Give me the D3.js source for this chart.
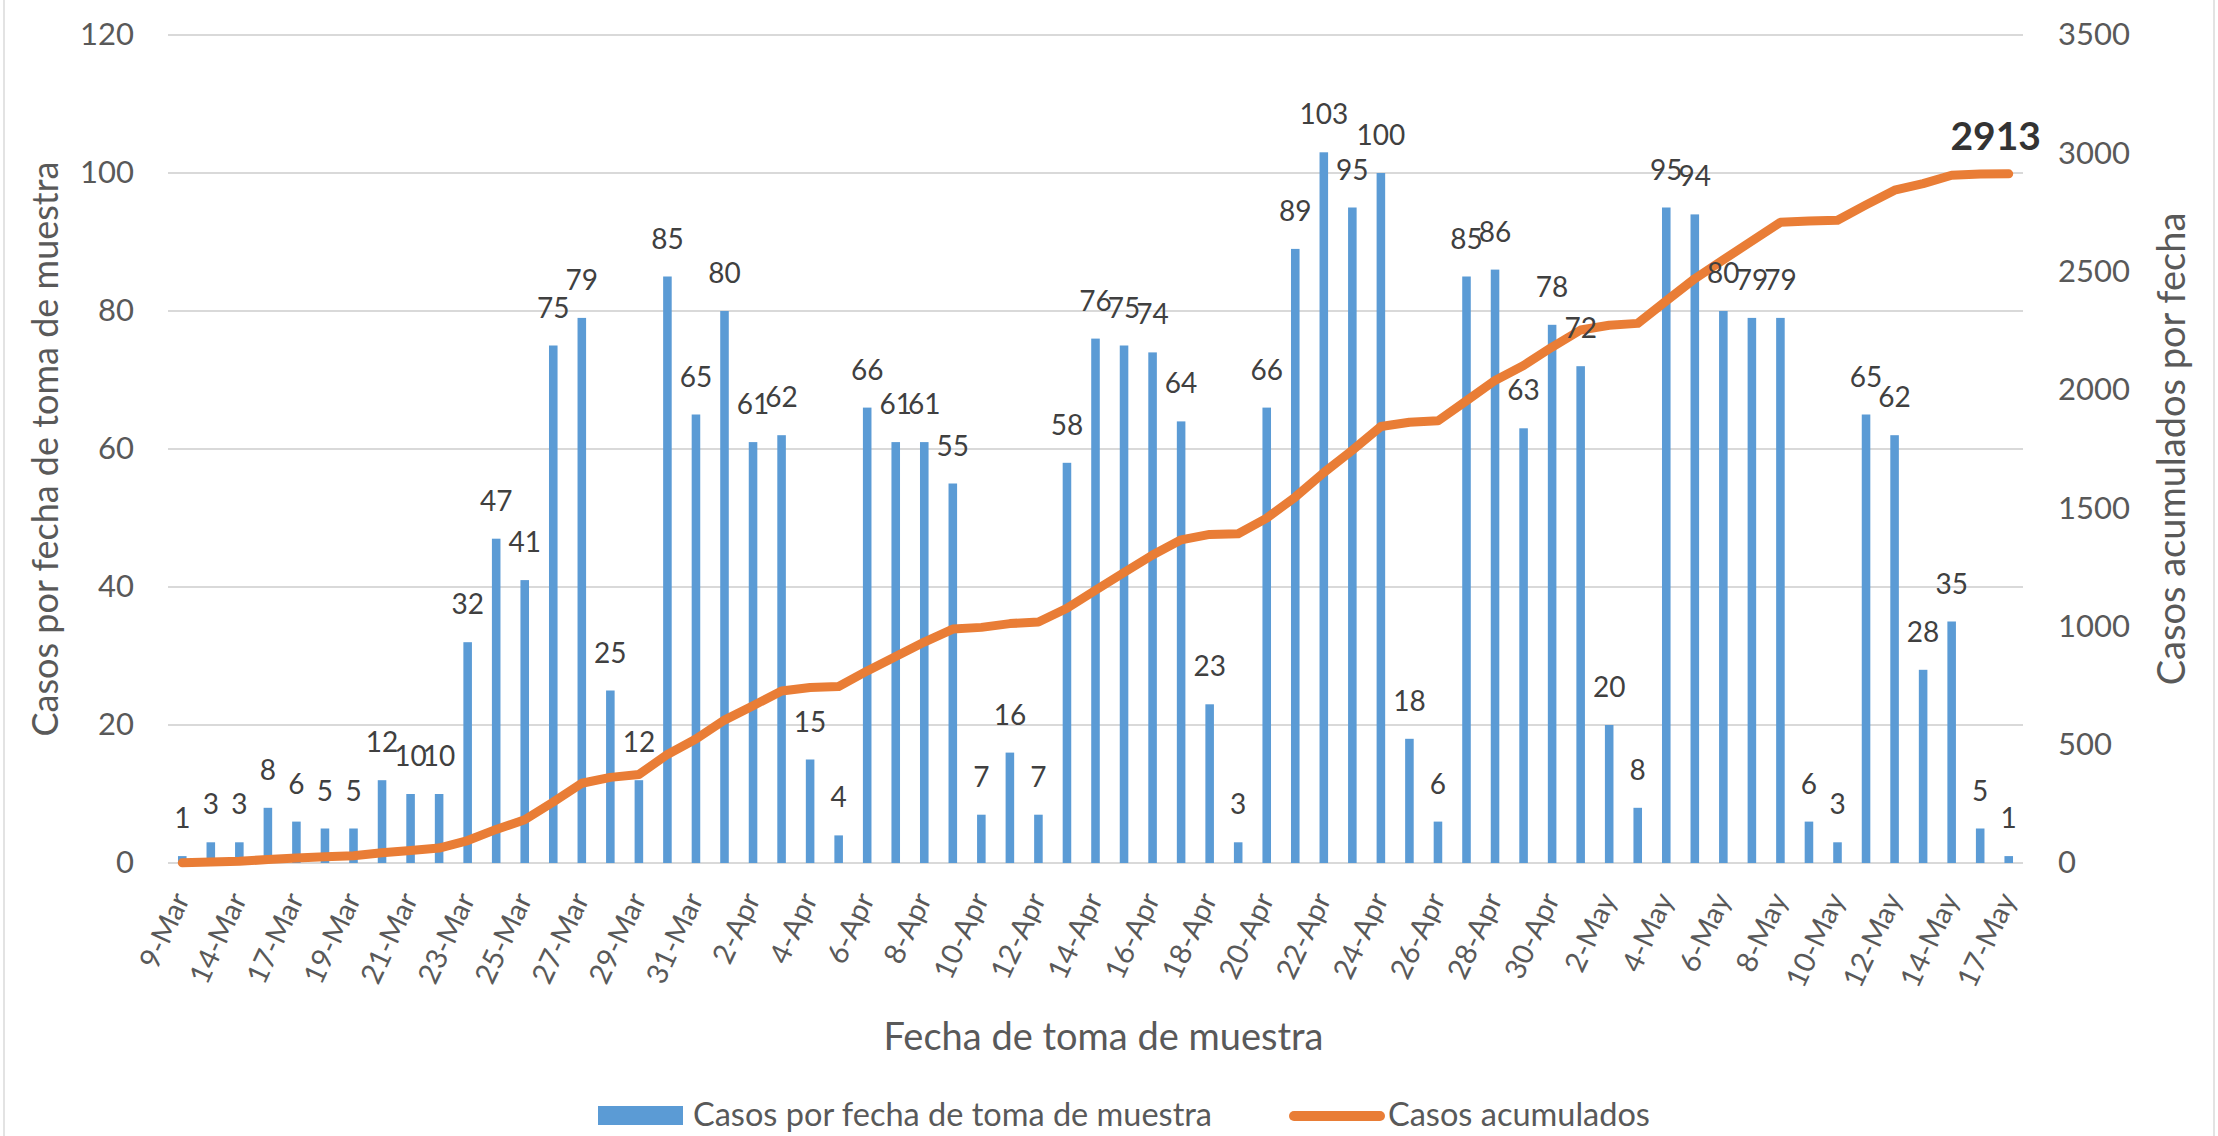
<!DOCTYPE html>
<html>
<head>
<meta charset="utf-8">
<script src="https://cdn.jsdelivr.net/npm/d3@7"></script>
<style>
  html, body { margin: 0; padding: 0; background: #ffffff; }
  svg { display: block; }
  text { font-family: Lato, "Open Sans", "Liberation Sans", sans-serif; }
</style>
</head>
<body>
<svg id="chart" width="2218" height="1136"></svg>
<script>
// ---------------- DATA ----------------
const dates = ["9-Mar","13-Mar","14-Mar","16-Mar","17-Mar","18-Mar","19-Mar","20-Mar","21-Mar","22-Mar",
  "23-Mar","24-Mar","25-Mar","26-Mar","27-Mar","28-Mar","29-Mar","30-Mar","31-Mar","1-Apr",
  "2-Apr","3-Apr","4-Apr","5-Apr","6-Apr","7-Apr","8-Apr","9-Apr","10-Apr","11-Apr",
  "12-Apr","13-Apr","14-Apr","15-Apr","16-Apr","17-Apr","18-Apr","19-Apr","20-Apr","21-Apr",
  "22-Apr","23-Apr","24-Apr","25-Apr","26-Apr","27-Apr","28-Apr","29-Apr","30-Apr","1-May",
  "2-May","3-May","4-May","5-May","6-May","7-May","8-May","9-May","10-May","11-May",
  "12-May","13-May","14-May","16-May","17-May"];

const casosDiarios = [1,3,3,8,6,5,5,12,10,10,
  32,47,41,75,79,25,12,85,65,80,
  61,62,15,4,66,61,61,55,7,16,
  7,58,76,75,74,64,23,3,66,89,
  103,95,100,18,6,85,86,63,78,72,
  20,8,95,94,80,79,79,6,3,65,
  62,28,35,5,1];

const casosAcumulados = [1,4,7,15,21,26,31,43,53,63,
  95,142,183,258,337,362,374,459,524,604,
  665,727,742,746,812,873,934,989,996,1012,
  1019,1077,1153,1228,1302,1366,1389,1392,1458,1547,
  1650,1745,1845,1863,1869,1954,2040,2103,2181,2253,
  2273,2281,2376,2470,2550,2629,2708,2714,2717,2782,
  2844,2872,2907,2912,2913];

const xTickLabels = ["9-Mar","14-Mar","17-Mar","19-Mar","21-Mar","23-Mar","25-Mar","27-Mar","29-Mar","31-Mar",
  "2-Apr","4-Apr","6-Apr","8-Apr","10-Apr","12-Apr","14-Apr","16-Apr","18-Apr","20-Apr",
  "22-Apr","24-Apr","26-Apr","28-Apr","30-Apr","2-May","4-May","6-May","8-May","10-May",
  "12-May","14-May","17-May"];
const yLeftTicks = [0,20,40,60,80,100,120];
const yRightTicks = [0,500,1000,1500,2000,2500,3000,3500];

const seriesNames = ["Casos por fecha de toma de muestra", "Casos acumulados"];
const xTitle = "Fecha de toma de muestra";
const yLeftTitle = "Casos por fecha de toma de muestra";
const yRightTitle = "Casos acumulados por fecha";
const totalLabel = 2913;

// ---------------- LAYOUT ----------------
const W = 2218, H = 1136;
const plot = { left: 168, right: 2023, top: 35, bottom: 863 };
const BLUE = "#5b9bd5", ORANGE = "#e97d36";
const GRID = "#d9d9d9", AXIS_TEXT = "#595959", LABEL_TEXT = "#404040";

const svg = d3.select("#chart");

// light outer frame
svg.append("rect").attr("x", 4).attr("y", -2).attr("width", W - 8).attr("height", H + 4)
  .attr("fill", "none").attr("stroke", "#e3e3e3").attr("stroke-width", 2);

const x = d3.scaleBand().domain(dates).range([plot.left, plot.right]).padding(0);
const y = d3.scaleLinear().domain([0, 120]).range([plot.bottom, plot.top]);
const y2 = d3.scaleLinear().domain([0, 3500]).range([plot.bottom, plot.top]);
const bw = x.bandwidth();
const barW = bw * 0.3;
const cx = d => x(d) + bw / 2;

// gridlines
svg.append("g").selectAll("line").data(yLeftTicks).join("line")
  .attr("x1", plot.left).attr("x2", plot.right)
  .attr("y1", d => y(d)).attr("y2", d => y(d))
  .attr("stroke", GRID).attr("stroke-width", 2);

// left axis
const gL = svg.append("g").attr("transform", `translate(${plot.left},0)`)
  .call(d3.axisLeft(y).tickValues(yLeftTicks).tickSize(0).tickPadding(34).tickFormat(d3.format("d")));
gL.select(".domain").remove();
gL.selectAll("text").attr("fill", AXIS_TEXT).style("font-size", "31px")
  .style("font-family", "Lato, sans-serif");

// right axis
const gR = svg.append("g").attr("transform", `translate(${plot.right},0)`)
  .call(d3.axisRight(y2).tickValues(yRightTicks).tickSize(0).tickPadding(35).tickFormat(d3.format("d")));
gR.select(".domain").remove();
gR.selectAll("text").attr("fill", AXIS_TEXT).style("font-size", "31px")
  .style("font-family", "Lato, sans-serif");

// bottom axis
const shown = new Set(xTickLabels);
const gX = svg.append("g").attr("transform", `translate(0,${plot.bottom})`)
  .call(d3.axisBottom(x).tickValues(dates.filter(d => shown.has(d))).tickSize(0));
gX.select(".domain").remove();
gX.selectAll("text")
  .attr("y", 0).attr("dy", 0)
  .attr("transform", "translate(8,36) rotate(-65)")
  .style("text-anchor", "end")
  .attr("fill", AXIS_TEXT).style("font-size", "29px")
  .style("font-family", "Lato, sans-serif");

// bars
svg.append("g").selectAll("rect").data(dates).join("rect")
  .attr("x", (d) => cx(d) - barW / 2)
  .attr("width", barW)
  .attr("y", (d, i) => y(casosDiarios[i]))
  .attr("height", (d, i) => y(0) - y(casosDiarios[i]))
  .attr("fill", BLUE);

// cumulative line
const line = d3.line().x(d => cx(d[0])).y(d => y2(d[1]));
svg.append("path")
  .datum(dates.map((d, i) => [d, casosAcumulados[i]]))
  .attr("d", line)
  .attr("fill", "none").attr("stroke", ORANGE).attr("stroke-width", 9)
  .attr("stroke-linejoin", "round").attr("stroke-linecap", "round");

// bar labels
svg.append("g").selectAll("text").data(dates).join("text")
  .attr("x", d => cx(d))
  .attr("y", (d, i) => y(casosDiarios[i]) - 28)
  .attr("text-anchor", "middle")
  .attr("fill", LABEL_TEXT).style("font-size", "28px")
  .text((d, i) => casosDiarios[i]);

// total label
const last = dates[dates.length - 1];
svg.append("text")
  .attr("x", cx(last) - 13)
  .attr("y", y2(casosAcumulados[casosAcumulados.length - 1]) - 24)
  .attr("text-anchor", "middle")
  .attr("fill", "#333333").style("font-size", "39px").style("font-weight", "bold")
  .text(totalLabel);

// axis titles
svg.append("text").attr("x", (plot.left + plot.right) / 2 + 8).attr("y", 1037)
  .attr("text-anchor", "middle").attr("dy", "0.35em")
  .attr("fill", AXIS_TEXT).style("font-size", "38px").text(xTitle);

svg.append("text").attr("transform", `translate(45,${(plot.top + plot.bottom) / 2}) rotate(-90)`)
  .attr("text-anchor", "middle").attr("dy", "0.35em")
  .attr("fill", AXIS_TEXT).style("font-size", "36px").text(yLeftTitle);

svg.append("text").attr("transform", `translate(2172,${(plot.top + plot.bottom) / 2}) rotate(-90)`)
  .attr("text-anchor", "middle").attr("dy", "0.35em")
  .attr("fill", AXIS_TEXT).style("font-size", "38px").text(yRightTitle);

// legend
const lg = svg.append("g");
lg.append("rect").attr("x", 598).attr("y", 1106).attr("width", 85).attr("height", 19).attr("fill", BLUE);
lg.append("text").attr("x", 693).attr("y", 1115).attr("dy", "0.35em")
  .attr("fill", AXIS_TEXT).style("font-size", "32.5px").text(seriesNames[0]);
lg.append("line").attr("x1", 1294).attr("x2", 1380).attr("y1", 1116).attr("y2", 1116)
  .attr("stroke", ORANGE).attr("stroke-width", 10).attr("stroke-linecap", "round");
lg.append("text").attr("x", 1388).attr("y", 1115).attr("dy", "0.35em")
  .attr("fill", AXIS_TEXT).style("font-size", "32.5px").text(seriesNames[1]);
</script>
</body>
</html>
